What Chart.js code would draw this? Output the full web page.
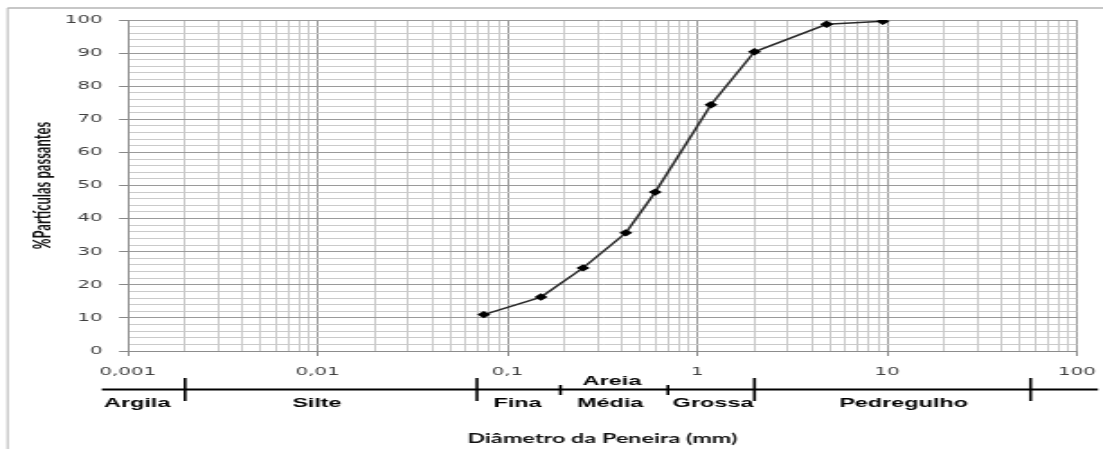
<!DOCTYPE html>
<html><head><meta charset="utf-8">
<script src="https://cdn.jsdelivr.net/npm/chart.js@4.4.0/dist/chart.umd.min.js"></script>
<style>
html,body{margin:0;padding:0;background:#fff;overflow:hidden;}
#wrap{position:absolute;left:0;top:0;width:613px;height:449px;transform:scaleX(1.79935);transform-origin:0 0;}
canvas{display:block;}
</style></head><body>
<div id="wrap"><canvas id="c" width="613" height="449"></canvas></div>
<script>
// ---- data ----
const diameters = [0.075, 0.15, 0.25, 0.42, 0.6, 1.18, 2.0, 4.8, 9.5];
const passing   = [11, 16.3, 25.1, 35.7, 48, 74.4, 90.4, 98.7, 99.6];
const xTickValues = [0.001, 0.01, 0.1, 1, 10, 100];
const xTickLabels = ['0,001', '0,01', '0,1', '1', '10', '100'];
const yTickValues = [0, 10, 20, 30, 40, 50, 60, 70, 80, 90, 100];
const yTickLabels = ['0', '10', '20', '30', '40', '50', '60', '70', '80', '90', '100'];
const bandBoundaries = [0.002, 0.069, 0.19, 0.7, 2, 57];
const bandBoundaryTall = [true, true, false, false, true, true];
const bandNames = ['Argila', 'Silte', 'Fina', 'Média', 'Grossa', 'Pedregulho'];
const bandNameAt = [0.00112, 0.0099, 0.113, 0.347, 1.21, 12.2];
const bandGroupName = 'Areia';
const bandGroupAt = 0.355;
const xTitle = 'Diâmetro da Peneira (mm)';
const yTitle = '%Partículas passantes';

const isDecade = v => Math.abs(Math.log10(v) - Math.round(Math.log10(v))) < 1e-6;
const isMajorY = v => Math.abs(v % 10) < 1e-6;

const bandPlugin = {
  id: 'bands',
  afterDraw(chart) {
    const ctx = chart.ctx;
    const xs = chart.scales.x;
    const ca = chart.chartArea;
    ctx.save();
    // outer frame (top + left)
    ctx.strokeStyle = '#b4b4b4';
    ctx.lineWidth = 1;
    ctx.beginPath(); ctx.moveTo(4.2, 8); ctx.lineTo(4.2, 449); ctx.stroke();
    ctx.lineWidth = 1.5;
    ctx.beginPath(); ctx.moveTo(4.2, 8); ctx.lineTo(613, 8); ctx.stroke();
    // classification band line
    const yLine = 389.5;
    ctx.strokeStyle = '#000';
    ctx.lineWidth = 2;
    ctx.beginPath(); ctx.moveTo(ca.left - 14.5, yLine); ctx.lineTo(610.2, yLine); ctx.stroke();
    ctx.lineWidth = 1.6;
    bandBoundaries.forEach((v, i) => {
      const px = xs.getPixelForValue(v);
      ctx.beginPath();
      if (bandBoundaryTall[i]) { ctx.moveTo(px, 378); ctx.lineTo(px, 401); }
      else { ctx.moveTo(px, 385); ctx.lineTo(px, 395); }
      ctx.stroke();
    });
    ctx.fillStyle = '#000';
    ctx.font = 'bold 13px "Liberation Sans", Arial, sans-serif';
    ctx.textAlign = 'center';
    ctx.textBaseline = 'middle';
    bandNames.forEach((n, i) => {
      ctx.fillText(n, xs.getPixelForValue(bandNameAt[i]), 403);
    });
    ctx.fillText(bandGroupName, xs.getPixelForValue(bandGroupAt), 381);
    ctx.restore();
  }
};

new Chart(document.getElementById('c'), {
  type: 'line',
  data: {
    datasets: [{
      data: diameters.map((d, i) => ({ x: d, y: passing[i] })),
      borderColor: '#2a2a2a',
      borderWidth: 1.5,
      pointStyle: 'rectRot',
      pointRadius: 3.7,
      pointBackgroundColor: '#000',
      pointBorderColor: '#000',
      pointBorderWidth: 0,
      tension: 0,
      fill: false
    }]
  },
  options: {
    responsive: false,
    animation: false,
    layout: { padding: { left: 0, right: 14.5, top: 20, bottom: 0 } },
    plugins: { legend: { display: false }, tooltip: { enabled: false } },
    scales: {
      x: {
        type: 'logarithmic',
        min: 0.001, max: 100,
        afterBuildTicks: s => {
          const t = [];
          for (let e = -3; e <= 1; e++) {
            for (let m = 1; m <= 9; m++) t.push({ value: parseFloat((m * Math.pow(10, e)).toPrecision(6)) });
          }
          t.push({ value: 100 });
          s.ticks = t;
        },
        afterFit: s => { s.height = 98; s.paddingLeft = 0; s.paddingRight = 0; },
        ticks: {
          autoSkip: false, maxRotation: 0, minRotation: 0, padding: 10,
          font: { family: 'DejaVu Sans', size: 11 }, color: '#404040',
          callback: v => {
            const i = xTickValues.findIndex(t => Math.abs(t - v) / t < 1e-6);
            return i >= 0 ? xTickLabels[i] : '';
          }
        },
        grid: {
          color: c => (c.tick && isDecade(c.tick.value)) ? '#9a9a9a' : '#cacaca',
          tickColor: c => (c.tick && isDecade(c.tick.value)) ? '#888' : 'rgba(0,0,0,0)',
          tickLength: 5
        },
        border: { color: '#8c8c8c', width: 1 },
        title: {
          display: true, text: xTitle, color: '#111',
          font: { family: 'Lato', weight: 'bold', size: 13 },
          padding: { top: 0, bottom: 2 }
        }
      },
      y: {
        min: 0, max: 100,
        afterBuildTicks: s => {
          const t = [];
          for (let v = 0; v <= 100; v += 2) t.push({ value: v });
          s.ticks = t;
        },
        afterFit: s => { s.width = 71.1; },
        ticks: {
          autoSkip: false, padding: 9,
          font: { family: 'DejaVu Sans', size: 11 }, color: '#404040',
          callback: v => {
            const i = yTickValues.indexOf(v);
            return i >= 0 ? yTickLabels[i] : '';
          }
        },
        grid: {
          color: c => (c.tick && isMajorY(c.tick.value)) ? '#9a9a9a' : '#cacaca',
          tickColor: c => (c.tick && isMajorY(c.tick.value)) ? '#888' : 'rgba(0,0,0,0)',
          tickLength: 5
        },
        border: { color: '#8c8c8c', width: 1 },
        title: {
          display: true, text: yTitle, color: '#111',
          font: { family: 'Lato', weight: 'bold', size: 13 },
          padding: { top: 16, bottom: 0 }
        }
      }
    }
  },
  plugins: [bandPlugin]
});
</script>
</body></html>
